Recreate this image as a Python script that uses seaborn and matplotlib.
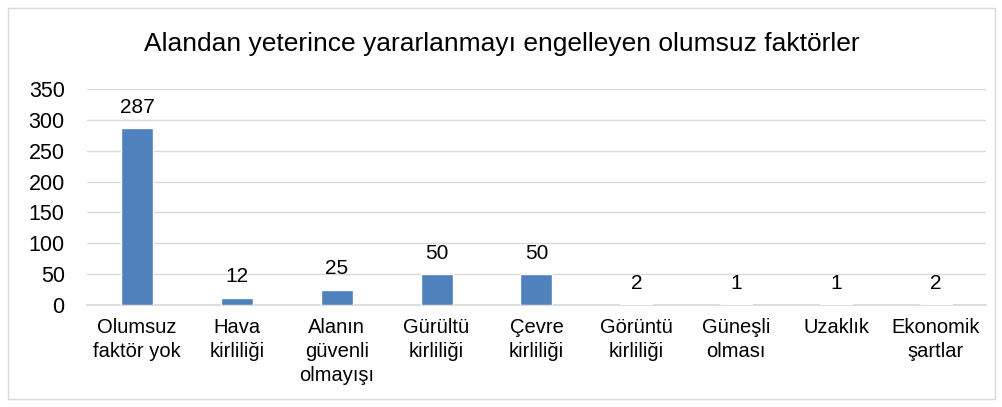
import matplotlib
matplotlib.use('Agg')
import matplotlib.pyplot as plt
import matplotlib.patches as mpatches
import seaborn as sns
import pandas as pd

categories = ['Olumsuz\nfaktör yok', 'Hava\nkirliliği', 'Alanın\ngüvenli\nolmayışı',
              'Gürültü\nkirliliği', 'Çevre\nkirliliği', 'Görüntü\nkirliliği',
              'Güneşli\nolması', 'Uzaklık', 'Ekonomik\nşartlar']
counts = [287, 12, 25, 50, 50, 2, 1, 1, 2]
title = 'Alandan yeterince yararlanmayı engelleyen olumsuz faktörler'

df = pd.DataFrame({'kategori': categories, 'sayi': counts})

sns.set_theme(style='white')
plt.rcParams['font.family'] = ['Liberation Sans', 'DejaVu Sans']
plt.rcParams['text.color'] = 'black'

fig = plt.figure(figsize=(10.03, 4.07), dpi=100)
ax = fig.add_axes([0.0867, 0.2506, 0.8963, 0.5306])

sns.barplot(data=df, x='kategori', y='sayi', color='#4F81BD', saturation=1,
            width=0.32, ax=ax, zorder=3)

ax.set_ylim(0, 350)
ax.set_xlim(-0.5, len(categories) - 0.5)
ax.set_yticks(range(0, 351, 50))
ax.yaxis.grid(True, color='#D9D9D9', linewidth=1, zorder=0)
ax.set_axisbelow(True)
for s in ['top', 'right', 'left']:
    ax.spines[s].set_visible(False)
ax.spines['bottom'].set_color('#D9D9D9')
ax.tick_params(axis='both', length=0, colors='black')
ax.tick_params(axis='y', pad=16, labelsize=15.5)
ax.tick_params(axis='x', pad=9, labelsize=14.5)
for lbl in ax.get_xticklabels():
    lbl.set_linespacing(1.35)
ax.set_xlabel('')
ax.set_ylabel('')

for i, v in enumerate(counts):
    ax.annotate(str(v), (i, v), xytext=(0, 8), textcoords='offset points',
                ha='center', va='bottom', fontsize=15, color='black')

fig.text(0.5, 0.893, title, ha='center', va='center', fontsize=19, color='black')

fig.patches.append(mpatches.Rectangle((0.008, 0.02), 0.984, 0.96, transform=fig.transFigure,
                                      fill=False, edgecolor='#D9D9D9', linewidth=1))

fig.savefig('out.png', dpi=100, facecolor='white')
